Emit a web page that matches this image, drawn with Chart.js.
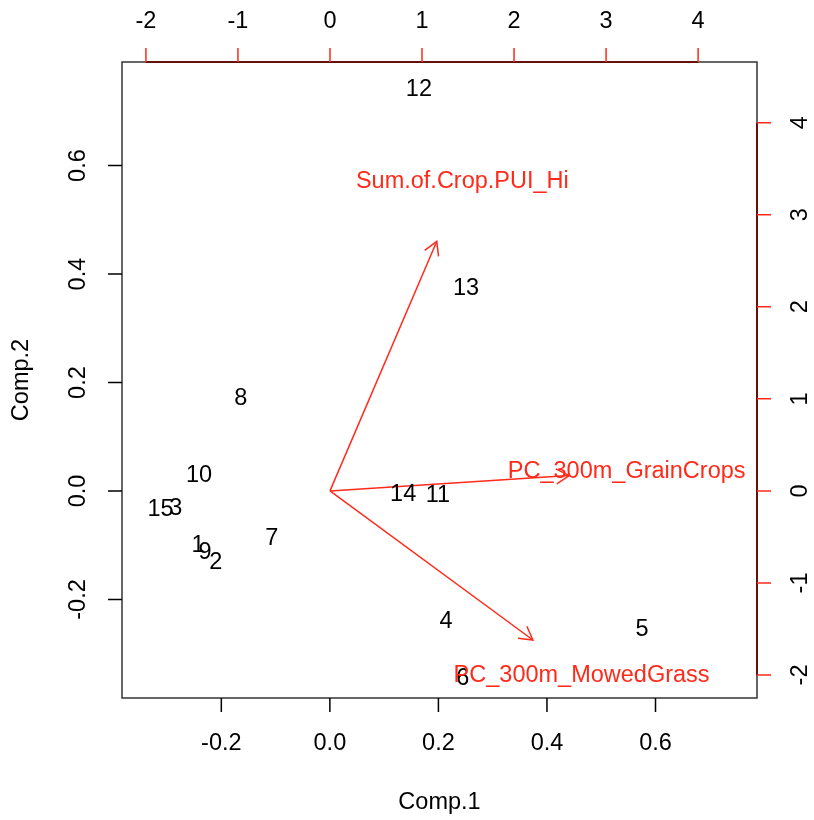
<!DOCTYPE html>
<html>
<head>
<meta charset="utf-8">
<script src="https://cdn.jsdelivr.net/npm/chart.js@4.4.1/dist/chart.umd.min.js"></script>
<style>
body { margin: 0; background: #fff; }
</style>
</head>
<body>
<canvas id="js-biplot" width="814" height="820"></canvas>
<script>
// scores (Comp.1 / Comp.2)
var obsLabels = ['1', '2', '3', '4', '5', '6', '7', '8', '9', '10', '11', '12', '13', '14', '15'];
var comp1 = [-0.243, -0.210, -0.284, 0.214, 0.575, 0.245, -0.107, -0.164, -0.230, -0.241, 0.199, 0.164, 0.251, 0.135, -0.312];
var comp2 = [-0.100, -0.131, -0.033, -0.240, -0.256, -0.345, -0.087, 0.170, -0.114, 0.028, -0.009, 0.741, 0.374, -0.007, -0.035];

// loadings (arrows, on the red axes)
var varNames = ['PC_300m_GrainCrops', 'Sum.of.Crop.PUI_Hi', 'PC_300m_MowedGrass'];
var load1 = [2.60, 1.16, 2.205];
var load2 = [0.167, 2.71, -1.62];

// axis ticks
var xTicks = [-0.2, 0.0, 0.2, 0.4, 0.6];
var yTicks = [-0.2, 0.0, 0.2, 0.4, 0.6];
var x2Ticks = [-2, -1, 0, 1, 2, 3, 4];
var y2Ticks = [-2, -1, 0, 1, 2, 3, 4];

var RED = '#ff2a1a';
var FONT = '23.5px "Liberation Sans", Arial, Helvetica, sans-serif';

var obsData = comp1.map(function (v, i) { return { x: v, y: comp2[i] }; });
var arrowSets = varNames.map(function (name, i) {
    return {
        label: name,
        data: [{ x: 0, y: 0 }, { x: load1[i], y: load2[i] }],
        xAxisID: 'x2',
        yAxisID: 'y2',
        showLine: true,
        borderColor: RED,
        borderWidth: 1.5,
        pointRadius: 0,
        isArrow: true
    };
});

function fixedTicks(list) {
    return function (scale) {
        scale.ticks = list.map(function (v) { return { value: v }; });
    };
}
function noSize(scale) {
    if (scale.isHorizontal()) scale.height = 0; else scale.width = 0;
}
function hiddenScale(pos, min, max, list) {
    return {
        type: 'linear', position: pos, min: min, max: max,
        grid: { display: false }, border: { display: false },
        ticks: { display: false },
        afterBuildTicks: fixedTicks(list),
        afterFit: noSize
    };
}

function rotText(ctx, txt, x, y) {
    ctx.save();
    ctx.translate(x, y);
    ctx.rotate(-Math.PI / 2);
    ctx.fillText(txt, 0, 0);
    ctx.restore();
}

var biplotDraw = {
    id: 'biplotDraw',
    afterDatasetsDraw: function (chart) {
        var ctx = chart.ctx;
        var a = chart.chartArea;
        var s = chart.scales;
        ctx.save();
        ctx.font = FONT;
        ctx.textAlign = 'center';
        ctx.textBaseline = 'middle';

        // observation labels
        ctx.fillStyle = '#000';
        chart.getDatasetMeta(0).data.forEach(function (pt, i) {
            ctx.fillText(obsLabels[i], pt.x, pt.y);
        });

        // arrow heads + variable names
        chart.data.datasets.forEach(function (ds, di) {
            if (!ds.isArrow) return;
            var pts = chart.getDatasetMeta(di).data;
            var x0 = pts[0].x, y0 = pts[0].y, x1 = pts[1].x, y1 = pts[1].y;
            var ang = Math.atan2(y1 - y0, x1 - x0);
            var len = 15, spread = Math.PI / 6;
            ctx.strokeStyle = RED;
            ctx.lineWidth = 1.5;
            ctx.beginPath();
            ctx.moveTo(x1 - len * Math.cos(ang - spread), y1 - len * Math.sin(ang - spread));
            ctx.lineTo(x1, y1);
            ctx.lineTo(x1 - len * Math.cos(ang + spread), y1 - len * Math.sin(ang + spread));
            ctx.stroke();
            var v = ds.data[1];
            ctx.fillStyle = RED;
            ctx.fillText(ds.label, s.x2.getPixelForValue(v.x * 1.24), s.y2.getPixelForValue(v.y * 1.24));
        });

        var tl = 14;
        // red axis lines (top / right) under the box
        var tf = s.x2.ticks, rf = s.y2.ticks;
        ctx.strokeStyle = RED;
        ctx.lineWidth = 2;
        ctx.beginPath();
        ctx.moveTo(s.x2.getPixelForValue(tf[0].value), a.top);
        ctx.lineTo(s.x2.getPixelForValue(tf[tf.length - 1].value), a.top);
        ctx.moveTo(a.right, s.y2.getPixelForValue(rf[0].value));
        ctx.lineTo(a.right, s.y2.getPixelForValue(rf[rf.length - 1].value));
        ctx.stroke();

        // box
        ctx.strokeStyle = 'rgba(0,0,0,0.8)';
        ctx.lineWidth = 1.5;
        ctx.strokeRect(a.left, a.top, a.right - a.left, a.bottom - a.top);

        // bottom axis
        ctx.strokeStyle = '#000';
        ctx.fillStyle = '#000';
        ctx.beginPath();
        s.x.ticks.forEach(function (t) {
            var px = s.x.getPixelForValue(t.value);
            ctx.moveTo(px, a.bottom); ctx.lineTo(px, a.bottom + tl);
            ctx.fillText(t.value.toFixed(1), px, a.bottom + 46);
        });
        ctx.stroke();
        // left axis
        ctx.beginPath();
        s.y.ticks.forEach(function (t) {
            var py = s.y.getPixelForValue(t.value);
            ctx.moveTo(a.left, py); ctx.lineTo(a.left - tl, py);
            rotText(ctx, t.value.toFixed(1), a.left - 43, py);
        });
        ctx.stroke();

        // top axis: red ticks, black labels
        ctx.strokeStyle = RED;
        ctx.lineWidth = 1.5;
        ctx.beginPath();
        tf.forEach(function (t) {
            var px = s.x2.getPixelForValue(t.value);
            ctx.moveTo(px, a.top); ctx.lineTo(px, a.top - tl);
            ctx.fillText(String(t.value), px, a.top - 40);
        });
        ctx.stroke();
        // right axis: red ticks, black labels
        ctx.beginPath();
        rf.forEach(function (t) {
            var py = s.y2.getPixelForValue(t.value);
            ctx.moveTo(a.right, py); ctx.lineTo(a.right + tl, py);
            rotText(ctx, String(t.value), a.right + 44, py);
        });
        ctx.stroke();

        // axis titles
        ctx.fillText('Comp.1', (a.left + a.right) / 2, a.bottom + 105);
        rotText(ctx, 'Comp.2', 22, (a.top + a.bottom) / 2);
        ctx.restore();
    }
};

var ctx = document.getElementById('js-biplot').getContext('2d');
var myChart = new Chart(ctx, {
    type: 'scatter',
    data: {
        datasets: [{
            label: 'scores',
            data: obsData,
            pointRadius: 0,
            xAxisID: 'x',
            yAxisID: 'y'
        }].concat(arrowSets)
    },
    options: {
        responsive: false,
        animation: false,
        layout: { padding: { left: 122, right: 57, top: 62, bottom: 122 } },
        plugins: {
            legend: { display: false },
            tooltip: { enabled: false }
        },
        scales: {
            x: hiddenScale('bottom', -0.383, 0.787, xTicks),
            y: hiddenScale('left', -0.3816, 0.791, yTicks),
            x2: hiddenScale('top', -2.26, 4.64, x2Ticks),
            y2: hiddenScale('right', -2.25, 4.66, y2Ticks)
        }
    },
    plugins: [biplotDraw]
});
</script>
</body>
</html>
